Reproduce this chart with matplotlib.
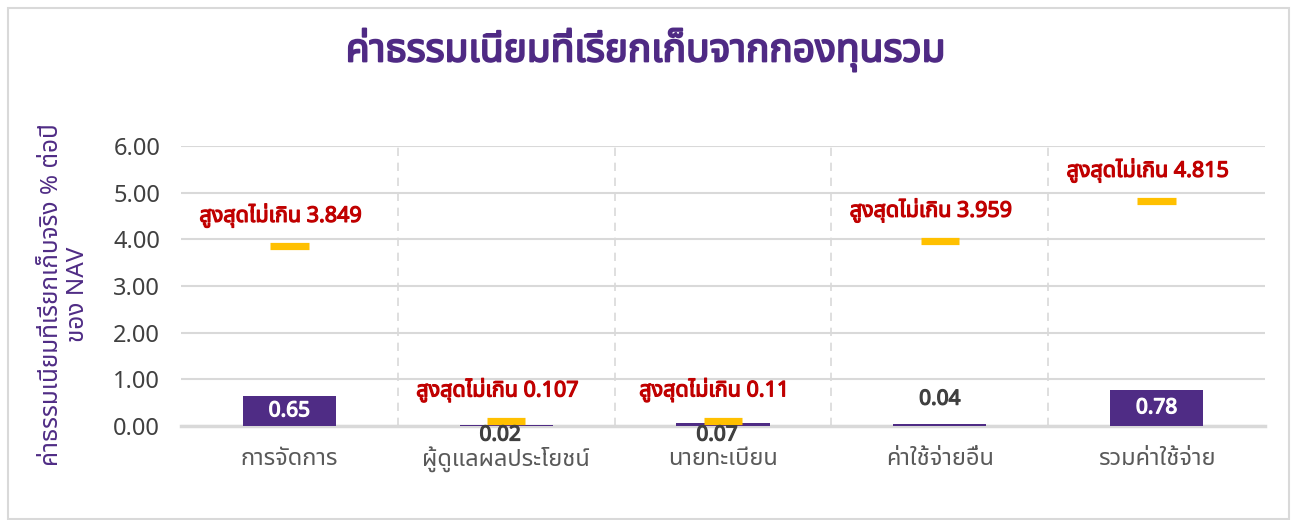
import matplotlib
matplotlib.use("Agg")
import matplotlib.pyplot as plt
import matplotlib.patheffects as pe
from matplotlib import font_manager
from matplotlib.ft2font import FT2Font
from matplotlib.patches import Rectangle

# ข้อมูลค่าธรรมเนียม (% ต่อปีของ NAV)
categories = ["การจัดการ", "ผู้ดูแลผลประโยชน์", "นายทะเบียน", "ค่าใช้จ่ายอื่น", "รวมค่าใช้จ่าย"]
actual_fee = [0.65, 0.02, 0.07, 0.04, 0.78]
max_fee = [3.849, 0.107, 0.11, 3.959, 4.815]
max_labels = ["3.849", "0.107", "0.11", "3.959", "4.815"]
yticks = [0, 1, 2, 3, 4, 5, 6]


def thai_faces():
    # ฟอนต์ที่มีอักษรไทย: ชื่อ -> น้ำหนักที่มี
    faces = {}
    for f in font_manager.fontManager.ttflist:
        try:
            if 0x0E01 in FT2Font(f.fname).get_charmap():
                w = f.weight if isinstance(f.weight, int) else 400
                faces.setdefault(f.name, set()).add(w)
        except Exception:
            pass
    return faces


faces = thai_faces()
preferred = ["Tahoma", "Leelawadee UI", "Noto Sans Thai", "Noto Sans Thai UI",
             "Loma", "Garuda", "Kinnari", "Norasi", "Sawasdee"]
names = [n for n in preferred if n in faces] + [n for n in faces if n not in preferred]
thai = names[0] if names else "DejaVu Sans"
has_bold = bool(names) and max(faces[thai]) >= 600
plt.rcParams['font.family'] = [thai, 'DejaVu Sans']

purple = "#4F2C85"
gold = "#FFC000"
red = "#C00000"
grid_c = "#D9D9D9"


def bold(color, w=0.9):
    # ตัวหนาเทียมเมื่อไม่มีหน้าฟอนต์ตัวหนา
    if has_bold:
        return []
    return [pe.withStroke(linewidth=w, foreground=color)]


fig = plt.figure(figsize=(12.95, 5.2), dpi=100)
ax = fig.add_axes([0.1398, 0.1808, 0.8370, 0.5384])

x = list(range(len(categories)))
ax.bar(x, actual_fee, width=0.43, color=purple, zorder=3)

# เส้นเพดานค่าธรรมเนียมสูงสุด
ax.hlines(max_fee, [i - 0.088 for i in x], [i + 0.088 for i in x],
          colors=gold, linewidth=5.2, zorder=4)

for i, v in enumerate(max_fee):
    ax.annotate("สูงสุดไม่เกิน " + max_labels[i], (i, v), xytext=(-9, 31),
                textcoords="offset pixels", ha="center", va="center",
                color=red, fontsize=15.5, fontweight="bold", zorder=5,
                path_effects=bold(red))

# ป้ายค่าที่เรียกเก็บจริง
for i, v in enumerate(actual_fee):
    if v >= 0.3:
        ax.text(i, v / 2, f"{v:.2f}", ha="center", va="center", color="white",
                fontsize=15, fontweight="bold", zorder=5, path_effects=bold("white"))
    elif i == 3:
        ax.annotate(f"{v:.2f}", (i, v), xytext=(0, 25), textcoords="offset pixels",
                    ha="center", va="center", color="#404040",
                    fontsize=15, fontweight="bold", zorder=5, path_effects=bold("#404040"))
    else:
        ax.annotate(f"{v:.2f}", (i, 0), xytext=(-6, -9), textcoords="offset pixels",
                    ha="center", va="center", color="#404040",
                    fontsize=15, fontweight="bold", zorder=5, path_effects=bold("#404040"))

ax.set_xlim(-0.5, len(categories) - 0.5)
ax.set_ylim(0, 6)
ax.set_yticks(yticks)
ax.set_yticklabels([f"{t:.2f}" for t in yticks], fontsize=17, color="#404040")
ax.set_xticks(x)
ax.set_xticklabels(categories, fontsize=17, color="#595959")
ax.tick_params(axis="both", length=0)
ax.tick_params(axis="x", pad=15)
ax.tick_params(axis="y", pad=15)

ax.grid(axis="y", color=grid_c, linewidth=1.5, zorder=0)
for b in [0.5, 1.5, 2.5, 3.5]:
    ax.axvline(b, color=grid_c, linestyle=(0, (5, 4)), linewidth=1.2, zorder=0)
for s in ["top", "right", "left"]:
    ax.spines[s].set_visible(False)
ax.spines["bottom"].set_color(grid_c)
ax.spines["bottom"].set_linewidth(2.5)

ax.set_ylabel("ค่าธรรมเนียมที่เรียกเก็บจริง % ต่อปี\nของ NAV", fontsize=17.5,
              color=purple, linespacing=1.1)
ax.yaxis.set_label_coords(-0.084, 0.47)

fig.text(0.4987, 0.904, "ค่าธรรมเนียมที่เรียกเก็บจากกองทุนรวม", ha="center", va="center",
         fontsize=28, fontweight="bold", color="#4F2A84", path_effects=bold("#4F2A84", 1.4))

fig.patches.append(Rectangle((8 / 1295, 0.002), 1281 / 1295, 1 - 8 / 520 - 0.002,
                             transform=fig.transFigure, fill=False,
                             edgecolor=grid_c, linewidth=1.5))

fig.savefig("out.png", dpi=100)
